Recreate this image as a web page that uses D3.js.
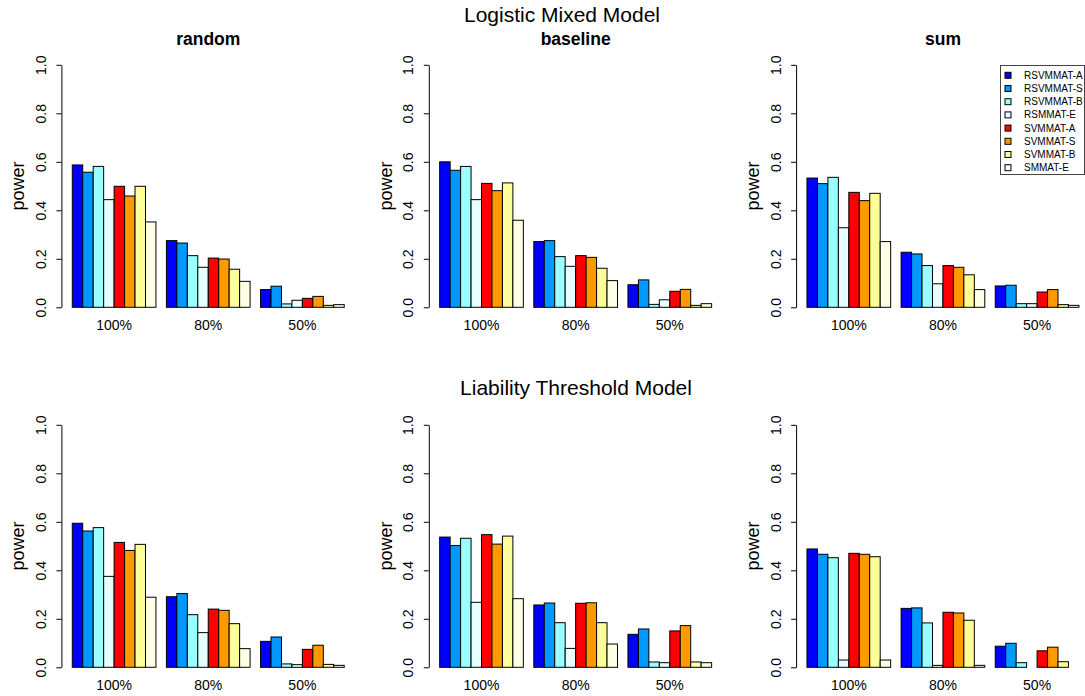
<!DOCTYPE html>
<html>
<head>
<meta charset="utf-8">
<script src="https://cdn.jsdelivr.net/npm/d3@7"></script>
<style>
  body { margin: 0; background: #fff; }
  svg { display: block; font-family: 'Liberation Sans', Arial, sans-serif; }
</style>
</head>
<body>
<svg id="chart" width="1085" height="696"></svg>
<script>
// data
const groups = ['100%', '80%', '50%'];
const series = ['RSVMMAT-A', 'RSVMMAT-S', 'RSVMMAT-B', 'RSMMAT-E',
                'SVMMAT-A', 'SVMMAT-S', 'SVMMAT-B', 'SMMAT-E'];
const yTicks = [0, 0.2, 0.4, 0.6, 0.8, 1.0];

// logistic mixed model, rows = groups, columns = series
const lmmRandom = [
    [0.587, 0.557, 0.581, 0.444, 0.499, 0.459, 0.499, 0.352],
    [0.275, 0.265, 0.213, 0.165, 0.203, 0.199, 0.157, 0.107],
    [0.073, 0.087, 0.014, 0.029, 0.037, 0.045, 0.008, 0.011]
];
const lmmBaseline = [
    [0.600, 0.565, 0.581, 0.444, 0.511, 0.481, 0.513, 0.359],
    [0.271, 0.275, 0.209, 0.169, 0.213, 0.206, 0.161, 0.110],
    [0.093, 0.113, 0.012, 0.031, 0.066, 0.074, 0.008, 0.015]
];
const lmmSum = [
    [0.533, 0.510, 0.536, 0.328, 0.474, 0.440, 0.470, 0.271],
    [0.227, 0.220, 0.172, 0.097, 0.172, 0.165, 0.134, 0.073],
    [0.088, 0.091, 0.015, 0.015, 0.063, 0.073, 0.011, 0.008]
];
// liability threshold model
const ltmRandom = [
    [0.594, 0.562, 0.576, 0.375, 0.515, 0.482, 0.507, 0.289],
    [0.291, 0.304, 0.217, 0.143, 0.240, 0.235, 0.180, 0.077],
    [0.107, 0.125, 0.014, 0.011, 0.074, 0.091, 0.012, 0.008]
];
const ltmBaseline = [
    [0.537, 0.502, 0.532, 0.268, 0.547, 0.508, 0.541, 0.283],
    [0.257, 0.265, 0.184, 0.078, 0.264, 0.266, 0.184, 0.096],
    [0.136, 0.158, 0.022, 0.019, 0.150, 0.172, 0.022, 0.019]
];
const ltmSum = [
    [0.488, 0.466, 0.452, 0.030, 0.470, 0.466, 0.456, 0.030],
    [0.243, 0.245, 0.183, 0.008, 0.227, 0.224, 0.194, 0.008],
    [0.087, 0.099, 0.019, 0.000, 0.068, 0.083, 0.023, 0.000]
];

const colors = ['#0000FF', '#0099FF', '#99FFFF', '#E5FFFF',
                '#FF0000', '#FF9900', '#FFFF99', '#FFFFE5'];

const svg = d3.select('#chart');

const opt = {
    plot_lefts: [61.4, 428.8, 796.1],
    plot_width: 293.7,
    zero_y: [307.3, 667.3],
    unit_height: 242.5,
    tick_size: 5,
    tick_font: 14,
    label_font: 18
};

function drawPanel(values, col, row, title) {
    const left = opt.plot_lefts[col];
    const y0 = opt.zero_y[row];

    // R barplot units: bars at 1..27, usr extended by 4% on each side
    const xs = d3.scaleLinear().domain([-0.04, 28.04]).range([left, left + opt.plot_width]);
    const x0 = d3.scaleBand().domain(groups).range([xs(1), xs(27)])
        .paddingInner(1 / 9).paddingOuter(0);
    const x1 = d3.scaleBand().domain(series).range([0, x0.bandwidth()]).padding(0);
    const y = d3.scaleLinear().domain([0, 1]).range([y0, y0 - opt.unit_height]);

    const g = svg.append('g');

    g.selectAll('g.grp')
        .data(groups)
        .join('g')
        .attr('class', 'grp')
        .attr('transform', d => `translate(${x0(d)},0)`)
        .selectAll('rect')
        .data((d, i) => values[i].map((v, j) => ({ key: series[j], v: v, c: colors[j] })))
        .join('rect')
        .attr('x', d => x1(d.key))
        .attr('y', d => y(d.v))
        .attr('width', x1.bandwidth())
        .attr('height', d => y(0) - y(d.v))
        .attr('fill', d => d.c)
        .attr('stroke', '#000')
        .attr('stroke-width', 1);

    // y axis
    const yAxis = g.append('g')
        .attr('transform', `translate(${left},0)`)
        .call(d3.axisLeft(y).tickValues(yTicks).tickFormat(d3.format('.1f'))
            .tickSize(opt.tick_size).tickSizeOuter(0));
    yAxis.selectAll('text')
        .attr('x', 0)
        .attr('dy', '0.35em')
        .attr('transform', 'translate(-20.5,0) rotate(-90)')
        .attr('text-anchor', 'middle')
        .style('font-size', opt.tick_font + 'px')
        .style('font-family', "'Liberation Sans', Arial, sans-serif")
        .attr('fill', '#000');
    yAxis.selectAll('path, line').attr('stroke', '#000');

    // group labels
    g.selectAll('text.grp-label')
        .data(groups)
        .join('text')
        .attr('class', 'grp-label')
        .attr('x', d => x0(d) + x0.bandwidth() / 2)
        .attr('y', y0 + 23)
        .attr('text-anchor', 'middle')
        .style('font-size', opt.tick_font + 'px')
        .text(d => d);

    // y title
    const midY = (y(1.04) + y(-0.04)) / 2;
    g.append('text')
        .attr('transform', `translate(${left - 37},${midY}) rotate(-90)`)
        .attr('text-anchor', 'middle')
        .style('font-size', opt.label_font + 'px')
        .text('power');

    if (title) {
        g.append('text')
            .attr('x', left + opt.plot_width / 2)
            .attr('y', 45)
            .attr('text-anchor', 'middle')
            .style('font-size', '17.5px')
            .style('font-weight', 'bold')
            .text(title);
    }
}

drawPanel(lmmRandom, 0, 0, 'random');
drawPanel(lmmBaseline, 1, 0, 'baseline');
drawPanel(lmmSum, 2, 0, 'sum');
drawPanel(ltmRandom, 0, 1, null);
drawPanel(ltmBaseline, 1, 1, null);
drawPanel(ltmSum, 2, 1, null);

// main titles
svg.append('text')
    .attr('x', 562).attr('y', 22)
    .attr('text-anchor', 'middle')
    .style('font-size', '21px')
    .text('Logistic Mixed Model');
svg.append('text')
    .attr('x', 576).attr('y', 395)
    .attr('text-anchor', 'middle')
    .style('font-size', '21px')
    .text('Liability Threshold Model');

// legend in the top right panel
const legend = svg.append('g');
legend.append('rect')
    .attr('x', 1000.5).attr('y', 65.5)
    .attr('width', 84).attr('height', 109)
    .attr('fill', '#fff')
    .attr('stroke', '#444');
const items = legend.selectAll('g.item')
    .data(series)
    .join('g')
    .attr('class', 'item')
    .attr('transform', (d, i) => `translate(0,${75.3 + i * 13.2})`);
items.append('rect')
    .attr('x', 1005).attr('y', -3)
    .attr('width', 6).attr('height', 6)
    .attr('fill', (d, i) => colors[i])
    .attr('stroke', '#000');
items.append('text')
    .attr('x', 1024).attr('y', 0)
    .attr('dominant-baseline', 'central')
    .style('font-size', '10px')
    .text(d => d);
</script>
</body>
</html>
